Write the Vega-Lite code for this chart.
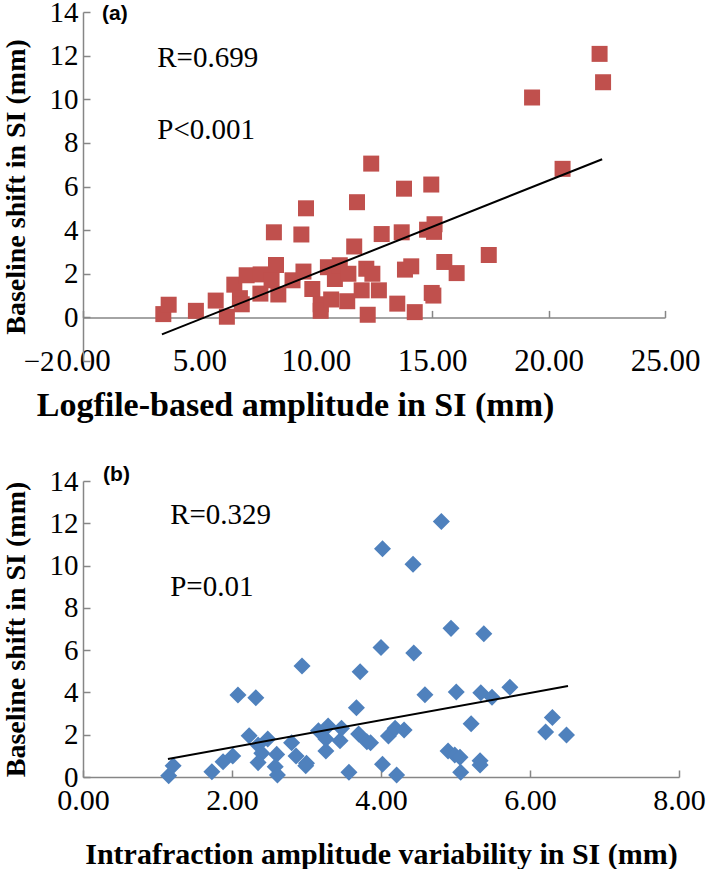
{
  "$schema": "https://vega.github.io/schema/vega-lite/v6.json",
  "padding": {"left": 2, "top": -2, "right": 0, "bottom": 0},
  "background": "white",
  "bounds": "flush",
  "spacing": 120,
  "config": {
    "view": {"stroke": null},
    "font": "Liberation Serif",
    "axis": {
      "grid": false,
      "domainColor": "#868686",
      "domainWidth": 1.5,
      "tickColor": "#868686",
      "tickWidth": 1.5,
      "tickSize": -7,
      "labelFont": "Liberation Serif",
      "labelFontSize": 29,
      "labelColor": "#000000",
      "titleFont": "Liberation Serif",
      "titleFontSize": 28,
      "titleFontWeight": "bold",
      "titleColor": "#000000"
    }
  },
  "vconcat": [
    {
      "width": 582,
      "height": 349,
      "layer": [
        {
          "data": {"values": [
            {"x": 3.45, "y": 0.15}, {"x": 3.68, "y": 0.58}, {"x": 4.85, "y": 0.3}, {"x": 5.7, "y": 0.77},
            {"x": 6.18, "y": 0.03}, {"x": 6.5, "y": 1.5}, {"x": 6.74, "y": 0.88}, {"x": 6.82, "y": 0.6},
            {"x": 7.03, "y": 1.93}, {"x": 7.63, "y": 1.97}, {"x": 7.62, "y": 1.09}, {"x": 8.2, "y": 3.9},
            {"x": 8.29, "y": 2.4}, {"x": 8.39, "y": 1.05}, {"x": 8.1, "y": 1.7}, {"x": 9.0, "y": 1.7},
            {"x": 9.38, "y": 3.8}, {"x": 9.58, "y": 5.0}, {"x": 9.47, "y": 2.1}, {"x": 9.85, "y": 1.3},
            {"x": 10.21, "y": 0.6}, {"x": 10.21, "y": 0.3}, {"x": 10.52, "y": 2.3}, {"x": 10.66, "y": 0.82},
            {"x": 10.82, "y": 1.76}, {"x": 11.03, "y": 2.39}, {"x": 11.35, "y": 0.74}, {"x": 11.4, "y": 2.0},
            {"x": 11.65, "y": 3.25}, {"x": 11.77, "y": 5.28}, {"x": 12.38, "y": 7.05}, {"x": 12.17, "y": 2.23},
            {"x": 12.43, "y": 2.0}, {"x": 11.97, "y": 1.24}, {"x": 12.71, "y": 1.24}, {"x": 12.23, "y": 0.12},
            {"x": 12.83, "y": 3.82}, {"x": 13.5, "y": 0.63}, {"x": 13.69, "y": 3.9}, {"x": 13.79, "y": 5.9},
            {"x": 13.83, "y": 2.19}, {"x": 14.1, "y": 2.34}, {"x": 14.25, "y": 0.24}, {"x": 14.78, "y": 4.02},
            {"x": 15.1, "y": 4.27}, {"x": 15.08, "y": 3.92}, {"x": 14.96, "y": 6.09}, {"x": 14.98, "y": 1.12},
            {"x": 15.05, "y": 1.0}, {"x": 15.52, "y": 2.54}, {"x": 16.05, "y": 2.03}, {"x": 17.43, "y": 2.86},
            {"x": 19.29, "y": 10.08}, {"x": 20.6, "y": 6.81}, {"x": 22.19, "y": 12.08}, {"x": 22.34, "y": 10.78}
          ]},
          "mark": {"type": "point", "shape": "square", "filled": true, "size": 256, "color": "#C0504D", "opacity": 1},
          "encoding": {
            "x": {"field": "x", "type": "quantitative",
              "scale": {"domain": [0, 25], "nice": false, "zero": false},
              "axis": {"values": [0, 5, 10, 15, 20, 25], "format": ".2f", "offset": -43.6,
                "labelFont": "Liberation Serif", "labelFontSize": 31,
                "labelBaseline": "middle", "labelPadding": 51, "labelFlush": false,
                "title": "Logfile-based amplitude in SI (mm)", "titleFontSize": 34, "titlePadding": 12, "titleX": 212}},
            "y": {"field": "y", "type": "quantitative",
              "scale": {"domain": [-2, 14], "nice": false, "zero": false},
              "axis": {"values": [-2, 0, 2, 4, 6, 8, 10, 12, 14], "labelFont": "Liberation Serif",
                "labelPadding": {"condition": {"test": "datum.value == -2", "value": 36}, "value": 12},
                "labelFlush": false,
                "title": "Baseline shift in SI (mm)", "titleX": -67, "titleBaseline": "middle"}}
          }
        },
        {
          "data": {"values": [{"x": 3.39, "y": -0.78}, {"x": 22.3, "y": 7.25}]},
          "mark": {"type": "line", "color": "#000000", "strokeWidth": 2},
          "encoding": {
            "x": {"field": "x", "type": "quantitative"},
            "y": {"field": "y", "type": "quantitative"}
          }
        },
        {
          "data": {"values": [{"x": 0.82, "y": 13.9, "label": "(a)"}]},
          "mark": {"type": "text", "align": "left", "baseline": "middle", "font": "Liberation Sans", "fontWeight": "bold", "fontSize": 21, "color": "#000000"},
          "encoding": {
            "x": {"field": "x", "type": "quantitative"},
            "y": {"field": "y", "type": "quantitative"},
            "text": {"field": "label"}
          }
        },
        {
          "data": {"values": [{"x": 3.19, "y": 11.91, "label": "R=0.699"}, {"x": 3.19, "y": 8.58, "label": "P<0.001"}]},
          "mark": {"type": "text", "align": "left", "baseline": "middle", "font": "Liberation Serif", "fontSize": 29, "color": "#000000"},
          "encoding": {
            "x": {"field": "x", "type": "quantitative"},
            "y": {"field": "y", "type": "quantitative"},
            "text": {"field": "label"}
          }
        }
      ]
    },
    {
      "width": 596,
      "height": 296,
      "layer": [
        {
          "data": {"values": [
            {"x": 1.15, "y": 0.06}, {"x": 1.21, "y": 0.53}, {"x": 1.73, "y": 0.25}, {"x": 1.88, "y": 0.72},
            {"x": 2.01, "y": 0.99}, {"x": 2.08, "y": 3.88}, {"x": 2.32, "y": 3.75}, {"x": 2.23, "y": 1.95},
            {"x": 2.35, "y": 1.51}, {"x": 2.48, "y": 1.8}, {"x": 2.4, "y": 1.12}, {"x": 2.35, "y": 0.68},
            {"x": 2.6, "y": 1.07}, {"x": 2.58, "y": 0.49}, {"x": 2.61, "y": 0.09}, {"x": 2.8, "y": 1.62},
            {"x": 2.86, "y": 0.99}, {"x": 2.94, "y": 5.25}, {"x": 2.99, "y": 0.53}, {"x": 3.0, "y": 0.65},
            {"x": 3.16, "y": 2.19}, {"x": 3.26, "y": 1.8}, {"x": 3.26, "y": 1.23}, {"x": 3.29, "y": 2.41},
            {"x": 3.45, "y": 1.72}, {"x": 3.47, "y": 2.3}, {"x": 3.57, "y": 0.22}, {"x": 3.67, "y": 3.28},
            {"x": 3.7, "y": 2.03}, {"x": 3.72, "y": 4.98}, {"x": 3.81, "y": 1.67}, {"x": 4.81, "y": 12.08},
            {"x": 4.02, "y": 10.8}, {"x": 4.43, "y": 10.06}, {"x": 4.94, "y": 7.03}, {"x": 5.38, "y": 6.78},
            {"x": 4.0, "y": 6.12}, {"x": 4.44, "y": 5.87}, {"x": 4.59, "y": 3.89}, {"x": 5.01, "y": 4.02},
            {"x": 5.34, "y": 3.99}, {"x": 5.49, "y": 3.77}, {"x": 5.73, "y": 4.24}, {"x": 5.21, "y": 2.52},
            {"x": 6.3, "y": 2.81}, {"x": 6.21, "y": 2.13}, {"x": 6.49, "y": 1.99}, {"x": 3.86, "y": 1.62},
            {"x": 4.1, "y": 1.94}, {"x": 4.19, "y": 2.3}, {"x": 4.31, "y": 2.22}, {"x": 4.02, "y": 0.6},
            {"x": 4.21, "y": 0.09}, {"x": 4.9, "y": 1.23}, {"x": 4.99, "y": 1.04}, {"x": 5.06, "y": 0.93},
            {"x": 5.07, "y": 0.22}, {"x": 5.33, "y": 0.77}, {"x": 5.33, "y": 0.57}
          ]},
          "mark": {"type": "point", "shape": "diamond", "filled": true, "size": 290, "color": "#4F81BD", "opacity": 1},
          "encoding": {
            "x": {"field": "x", "type": "quantitative",
              "scale": {"domain": [0, 8], "nice": false, "zero": false},
              "axis": {"values": [0, 2, 4, 6, 8], "format": ".2f", "labelFont": "Liberation Serif", "labelFontSize": 30,
                "labelBaseline": "middle", "labelPadding": 30, "labelFlush": false,
                "title": "Intrafraction amplitude variability in SI (mm)", "titleFontSize": 30, "titlePadding": 24}},
            "y": {"field": "y", "type": "quantitative",
              "scale": {"domain": [0, 14], "nice": false, "zero": false},
              "axis": {"values": [0, 2, 4, 6, 8, 10, 12, 14], "labelFont": "Liberation Serif", "labelPadding": 12, "labelFlush": false,
                "title": "Baseline shift in SI (mm)", "titleX": -67, "titleBaseline": "middle"}}
          }
        },
        {
          "data": {"values": [{"x": 1.14, "y": 0.85}, {"x": 6.51, "y": 4.3}]},
          "mark": {"type": "line", "color": "#000000", "strokeWidth": 2},
          "encoding": {
            "x": {"field": "x", "type": "quantitative"},
            "y": {"field": "y", "type": "quantitative"}
          }
        },
        {
          "data": {"values": [{"x": 0.27, "y": 14.29, "label": "(b)"}]},
          "mark": {"type": "text", "align": "left", "baseline": "middle", "font": "Liberation Sans", "fontWeight": "bold", "fontSize": 21, "color": "#000000"},
          "encoding": {
            "x": {"field": "x", "type": "quantitative"},
            "y": {"field": "y", "type": "quantitative"},
            "text": {"field": "label"}
          }
        },
        {
          "data": {"values": [{"x": 1.17, "y": 12.39, "label": "R=0.329"}, {"x": 1.17, "y": 9.0, "label": "P=0.01"}]},
          "mark": {"type": "text", "align": "left", "baseline": "middle", "font": "Liberation Serif", "fontSize": 29, "color": "#000000"},
          "encoding": {
            "x": {"field": "x", "type": "quantitative"},
            "y": {"field": "y", "type": "quantitative"},
            "text": {"field": "label"}
          }
        }
      ]
    }
  ]
}
